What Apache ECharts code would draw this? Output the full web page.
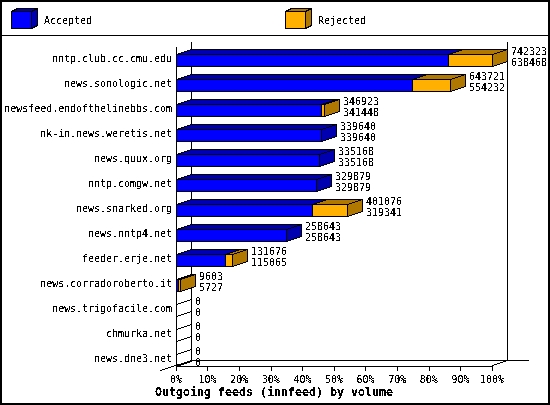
<!DOCTYPE html>
<html>
<head>
<meta charset="utf-8">
<style>
html,body{margin:0;padding:0;background:#fff}
#c{width:550px;height:405px}
svg path,svg rect,svg line,svg polygon{shape-rendering:crispEdges}
svg text{filter:url(#bw)}
</style>
<script src="https://cdn.jsdelivr.net/npm/echarts@6/dist/echarts.min.js"></script>
</head>
<body>
<svg width="0" height="0" style="position:absolute"><filter id="bw" x="-5%" y="-20%" width="110%" height="140%" color-interpolation-filters="sRGB"><feComponentTransfer><feFuncA type="discrete" tableValues="0 0 1 1 1"/></feComponentTransfer></filter></svg>
<div id="c"></div>
<script>
const categories = ["nntp.club.cc.cmu.edu","news.sonologic.net","newsfeed.endofthelinebbs.com","nk-in.news.weretis.net","news.quux.org","nntp.comgw.net","news.snarked.org","news.nntp4.net","feeder.erje.net","news.corradoroberto.it","news.trigofacile.com","chmurka.net","news.dne3.net"];
const totals = [742323,643721,346923,339640,335168,329879,401076,258643,131676,9603,0,0,0];
const accepted = [638468,554232,341448,339640,335168,329879,319341,258643,115065,5727,0,0,0];
const seriesNames = ["Accepted","Rejected"];
const titleText = "Outgoing feeds (innfeed) by volume";

const BLUE="#0000ff",DBLUE="#0000b0",ORANGE="#ffb000",DORANGE="#b07800",INK="#000";
const FONT='"DejaVu Sans Mono"';
const FS=9.967;
const DX=15,DY=5,H=12;
const maxV=Math.max(...totals);
const pct=v=>v/maxV*100;
const snap=v=>Math.round(v)+0.5;

function barFace(x0,x1,y,fill,dark,side){
  const st={stroke:INK,lineWidth:1};
  const kids=[
    {type:'polygon',shape:{points:[[x0,y],[x0+DX,y-DY],[x1+DX,y-DY],[x1,y]]},style:{fill:dark,...st}},
    {type:'rect',shape:{x:x0,y:y,width:x1-x0,height:H},style:{fill:fill,...st}}
  ];
  if(side) kids.push({type:'polygon',shape:{points:[[x1,y],[x1+DX,y-DY],[x1+DX,y-DY+H],[x1,y+H]]},style:{fill:dark,...st}});
  return kids;
}
function barSeries(name,data,fill,dark){
  return {name,type:'custom',coordinateSystem:'cartesian2d',z:3,
    encode:{x:[0,1],y:2},data,
    renderItem(p,api){
      const a=api.coord([api.value(0),api.value(2)]),b=api.coord([api.value(1),api.value(2)]);
      const x0=snap(a[0]),x1=snap(b[0]),y=snap(a[1]);
      const empty=api.value(1)<=0;
      return {type:'group',children:barFace(x0,x1,y,empty?'none':fill,empty?'none':dark,true)};
    }};
}
const accData=categories.map((c,i)=>[0,pct(accepted[i]),i]);
const rejData=categories.map((c,i)=>[pct(accepted[i]),pct(totals[i]),i]).filter(d=>d[1]>d[0]);
const labelData=categories.map((c,i)=>[pct(totals[i]),i,totals[i],accepted[i]]);

const chart=echarts.init(document.getElementById('c'),null,{renderer:'svg',width:550,height:405});
const legendBox=(x,fill,dark,label)=>({type:'group',silent:true,children:[
  {type:'polygon',shape:{points:[[x+0.5,11.5],[x+6.5,8.5],[x+26.5,8.5],[x+20.5,11.5]]},style:{fill:dark,stroke:INK,lineWidth:1}},
  {type:'polygon',shape:{points:[[x+20.5,11.5],[x+26.5,8.5],[x+26.5,25.5],[x+20.5,28.5]]},style:{fill:dark,stroke:INK,lineWidth:1}},
  {type:'rect',shape:{x:x+0.5,y:11.5,width:20,height:17},style:{fill:fill,stroke:INK,lineWidth:1}},
  {type:'text',style:{x:x+33,y:20,text:label,font:FS+'px '+FONT,fill:INK,verticalAlign:'middle'}}
]});
chart.setOption({
  animation:false,
  backgroundColor:'#fff',
  title:{text:titleText,left:274,top:386,textAlign:'center',padding:0,
    textStyle:{fontFamily:FONT,fontSize:11.63,fontWeight:'bold',color:INK}},
  grid:{left:176,top:41,width:316,height:325,containLabel:false},
  xAxis:{type:'value',min:0,max:100,interval:10,
    axisLine:{show:true,lineStyle:{color:INK,width:1}},
    axisTick:{show:true,length:5,lineStyle:{color:INK,width:1}},
    splitLine:{show:false},
    axisLabel:{formatter:'{value}%',margin:8,color:INK,fontFamily:FONT,fontSize:FS,hideOverlap:false,showMinLabel:true,showMaxLabel:true}},
  yAxis:{type:'category',inverse:true,data:categories,
    axisLine:{show:false},axisTick:{show:false},splitLine:{show:false},
    axisLabel:{margin:4,color:INK,fontFamily:FONT,fontSize:FS,verticalAlign:'top',interval:0}},
  graphic:[
    {type:'rect',silent:true,z:-1,shape:{x:0.5,y:0.5,width:548,height:403},style:{fill:'none',stroke:INK,lineWidth:2}},
    {type:'line',silent:true,shape:{x1:0,y1:35.5,x2:550,y2:35.5},style:{stroke:INK,lineWidth:1}},
    legendBox(11,BLUE,DBLUE,seriesNames[0]),
    legendBox(285,ORANGE,DORANGE,seriesNames[1])
  ],
  series:[
    {type:'custom',name:'frame',z:1,silent:true,data:[[0]],encode:{x:0},
      renderItem(p,api){
        const s=api.coord([0,0]),e=api.coord([100,categories.length-1]);
        const l=snap(s[0]),r=snap(e[0]),top=snap(s[1])-8;
        const b=p.coordSys.y+p.coordSys.height-0.5;
        const st={stroke:INK,lineWidth:1,fill:'none'};
        const ln=(x1,y1,x2,y2)=>({type:'line',shape:{x1,y1,x2,y2},style:st});
        return {type:'group',children:[
          ln(l,top,l,b),
          ln(l+DX,top-5,l+DX,b-DY),
          ln(r+DX,top-5,r+DX,b-DY),
          ln(l+DX,b-DY,r+DX+21,b-DY),
          ln(l-16,b+5,l+DX,b-DY),
          ln(r,b,r+DX,b-DY)
        ]};
      }},
    barSeries(seriesNames[0],accData,BLUE,DBLUE),
    barSeries(seriesNames[1],rejData,ORANGE,DORANGE),
    {type:'custom',name:'values',z:4,silent:true,data:labelData,encode:{x:0,y:1},
      renderItem(p,api){
        const c=api.coord([api.value(0),api.value(1)]);
        const x=Math.round(c[0])+DX+4,y=snap(c[1]);
        const t=(v,yy)=>({type:'text',style:{x,y:yy,text:String(v),font:FS+'px '+FONT,fill:INK,verticalAlign:'middle'}});
        return {type:'group',children:[t(api.value(2),y-3.5),t(api.value(3),y+7.5)]};
      }}
  ]
});
</script>
</body>
</html>
